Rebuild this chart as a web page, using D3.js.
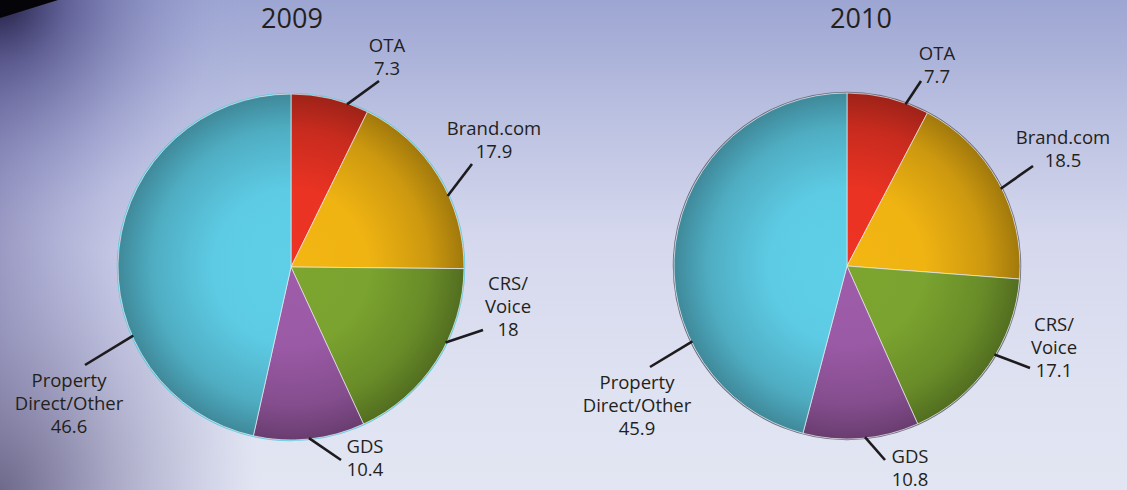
<!DOCTYPE html>
<html>
<head>
<meta charset="utf-8">
<script src="https://cdn.jsdelivr.net/npm/d3@7"></script>
<style>
  html, body { margin: 0; padding: 0; background: #dfe2f0; }
  svg { display: block; }
  text { font-family: "Open Sans", "Noto Sans", sans-serif; fill: #231f20; }
</style>
</head>
<body>
<svg id="chart" width="1127" height="490"></svg>
<script>
// Booking channel share (%)
const years = ["2009", "2010"];
const channels = ["OTA", "Brand.com", "CRS/Voice", "GDS", "Property Direct/Other"];
const labelLines = [["OTA"], ["Brand.com"], ["CRS/", "Voice"], ["GDS"], ["Property", "Direct/Other"]];
const share2009 = [7.3, 17.9, 18, 10.4, 46.6];
const share2010 = [7.7, 18.5, 17.1, 10.8, 45.9];
const shares = [share2009, share2010];

const sliceColors = ["#ea3323", "#efb312", "#7aa32f", "#9b5aa6", "#5dcbe4"];

// Layout: pie centres, radius, and per-slice callout placement
// (leader angle in degrees clockwise from 12 o'clock, leader end and label anchor relative to centre)
const W = 1127, H = 490;
const R = 173;
const centers = [[291, 267], [847, 266]];
const titleX = [292, 861];
const callouts = [
  [
    { a: 19,    end: [88, -186],  lab: [96, -215] },
    { a: 65.6,  end: [181, -103], lab: [203, -132] },
    { a: 116,   end: [192, 63],   lab: [217, 23] },
    { a: 174,   end: [50, 193],   lab: [74, 186] },
    { a: 246.5, end: [-206, 98],  lab: [-222, 120] }
  ],
  [
    { a: 19.9,  end: [74, -185],  lab: [90, -206] },
    { a: 63.3,  end: [186, -100], lab: [216, -122] },
    { a: 121,   end: [183, 102],  lab: [207, 65] },
    { a: 174,   end: [38, 194],   lab: [63, 197] },
    { a: 244,   end: [-197, 101], lab: [-210, 123] }
  ]
];
const LABEL_SIZE = 18.5;
const LINE_STEP = 23;

const svg = d3.select("#chart");
const defs = svg.append("defs");

// ---------- backdrop ----------
function linGrad(id, x1, y1, x2, y2, stops) {
  const g = defs.append("linearGradient").attr("id", id)
    .attr("x1", x1).attr("y1", y1).attr("x2", x2).attr("y2", y2);
  stops.forEach(s => g.append("stop").attr("offset", s[0]).attr("stop-color", s[1]).attr("stop-opacity", s[2] ?? 1));
}
function radGrad(id, cx, cy, r, stops) {
  const g = defs.append("radialGradient").attr("id", id)
    .attr("gradientUnits", "userSpaceOnUse")
    .attr("cx", cx).attr("cy", cy).attr("r", r);
  stops.forEach(s => g.append("stop").attr("offset", s[0]).attr("stop-color", s[1]).attr("stop-opacity", s[2] ?? 1));
}

linGrad("bgV", 0, 0, 0, 1, [[0, "#9da5d2"], [0.22, "#b9bfe0"], [0.5, "#d6d9ee"], [0.8, "#dfe2f1"], [1, "#e2e5f2"]]);
linGrad("bgL", 0, 0, 1, 0, [[0, "#5e5a98", 0.5], [0.1, "#7c7dbd", 0.22], [0.22, "#9aa0d4", 0], [1, "#9aa0d4", 0]]);
radGrad("bgTL", 0, 0, 220, [[0, "#1c1838", 0.95], [0.3, "#3b3770", 0.55], [1, "#8a90c8", 0]]);
radGrad("bgBL", 0, 490, 260, [[0, "#5e5878", 0.75], [0.5, "#7a7599", 0.35], [1, "#9a9cc8", 0]]);

svg.append("rect").attr("width", W).attr("height", H).attr("fill", "url(#bgV)");
svg.append("rect").attr("width", W).attr("height", H).attr("fill", "url(#bgL)");
svg.append("rect").attr("width", W).attr("height", H).attr("fill", "url(#bgBL)");
svg.append("rect").attr("width", W).attr("height", H).attr("fill", "url(#bgTL)");
svg.append("path").attr("d", "M0,0 L58,0 L0,18 Z").attr("fill", "#050408");

// ---------- slice shading (radial, centred on each pie's own origin) ----------
sliceColors.forEach((c, i) => {
  const base = d3.color(c);
  radGrad(`shade_${i}`, 0, 0, R, [
    [0, base.brighter(0.05).formatHex()],
    [0.45, base.formatHex()],
    [0.8, base.darker(0.45).formatHex()],
    [1, base.darker(1.1).formatHex()]
  ]);
});

const pie = d3.pie().sort(null).value(d => d);
const arc = d3.arc().innerRadius(0).outerRadius(R);
const rad = deg => deg * Math.PI / 180;

shares.forEach((vals, k) => {
  const [cx, cy] = centers[k];
  const g = svg.append("g").attr("transform", `translate(${cx},${cy})`);
  const arcs = pie(vals);

  // rim
  g.append("circle").attr("r", R + 0.6)
    .attr("fill", "none")
    .attr("stroke", k === 0 ? "#63c9e0" : "#6c6f7c")
    .attr("stroke-width", 1.3);

  g.selectAll("path.slice").data(arcs).join("path")
    .attr("class", "slice")
    .attr("d", arc)
    .attr("fill", (d, i) => `url(#shade_${i})`)
    .attr("stroke", "rgba(235,235,240,0.75)")
    .attr("stroke-width", 0.9)
    .attr("stroke-linejoin", "round");

  // leader lines
  g.selectAll("line.leader").data(arcs).join("line")
    .attr("class", "leader")
    .attr("x1", (d, i) => (R - 1) * Math.sin(rad(callouts[k][i].a)))
    .attr("y1", (d, i) => -(R - 1) * Math.cos(rad(callouts[k][i].a)))
    .attr("x2", (d, i) => callouts[k][i].end[0])
    .attr("y2", (d, i) => callouts[k][i].end[1])
    .attr("stroke", "#1d1b1e")
    .attr("stroke-width", 2.6);

  // labels: channel name lines followed by the value
  const lab = g.selectAll("text.lab").data(arcs).join("text")
    .attr("class", "lab")
    .attr("text-anchor", "middle")
    .attr("font-size", LABEL_SIZE)
    .attr("x", (d, i) => callouts[k][i].lab[0])
    .attr("y", (d, i) => callouts[k][i].lab[1]);
  lab.each(function (d, i) {
    const t = d3.select(this);
    const lines = labelLines[i].concat([String(d.data)]);
    lines.forEach((s, j) => {
      t.append("tspan").attr("x", callouts[k][i].lab[0]).attr("dy", j === 0 ? 0 : LINE_STEP).text(s);
    });
  });

  svg.append("text")
    .attr("x", titleX[k]).attr("y", 28)
    .attr("text-anchor", "middle")
    .attr("font-size", 27)
    .text(years[k]);
});
</script>
</body>
</html>
